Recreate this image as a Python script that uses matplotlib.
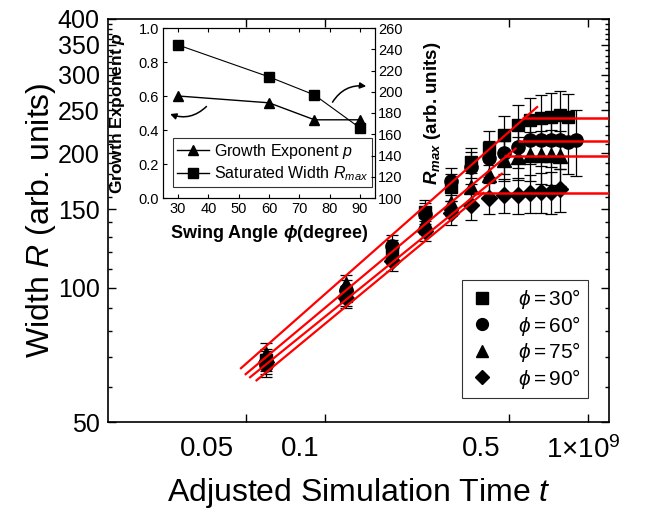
import numpy as np
import matplotlib
matplotlib.use('Agg')
import matplotlib.pyplot as plt
from matplotlib import transforms
from matplotlib.lines import Line2D
from matplotlib.ticker import FixedLocator, NullLocator, NullFormatter

plt.rcParams['font.family'] = ['Liberation Sans', 'DejaVu Sans']
plt.rcParams['mathtext.fontset'] = 'custom'
plt.rcParams['mathtext.rm'] = 'Liberation Sans'
plt.rcParams['mathtext.it'] = 'Liberation Sans:italic'
plt.rcParams['mathtext.bf'] = 'Liberation Sans:bold'
plt.rcParams['mathtext.bfit'] = 'Liberation Sans:italic:bold'
plt.rcParams['mathtext.fallback'] = 'stixsans'

# ---------------- main data ----------------
time_30 = [0.06, 0.12, 0.18, 0.24, 0.30, 0.36, 0.42, 0.48, 0.54, 0.60, 0.66, 0.72, 0.78, 0.84]
width_30 = [69, 96, 121, 148, 168, 191, 206, 220, 232, 238, 240, 241, 244, 241]
err_30 = [4, 5, 7, 9, 12, 15, 18, 22, 25, 28, 30, 32, 32, 30]

time_60 = [0.06, 0.12, 0.18, 0.24, 0.30, 0.36, 0.42, 0.48, 0.54, 0.60, 0.66, 0.72, 0.78, 0.84, 0.90]
width_60 = [67, 99, 124, 146, 173, 186, 195, 200, 207, 214, 214, 214, 214, 212, 214]
err_60 = [4, 5, 7, 9, 12, 15, 18, 20, 22, 25, 27, 28, 30, 32, 36]

time_75 = [0.06, 0.12, 0.18, 0.24, 0.30, 0.36, 0.42, 0.48, 0.54, 0.60, 0.66, 0.72, 0.78]
width_75 = [71, 102, 119, 140, 155, 168, 179, 193, 196, 198, 198, 198, 197]
err_75 = [4, 5, 6, 8, 10, 13, 16, 20, 22, 25, 27, 28, 28]

time_90 = [0.06, 0.12, 0.18, 0.24, 0.30, 0.36, 0.42, 0.48, 0.54, 0.60, 0.66, 0.72, 0.78]
width_90 = [68, 95, 115, 134, 147, 153, 159, 161, 161, 163, 164, 164, 166]
err_90 = [4, 5, 6, 7, 9, 11, 13, 14, 15, 16, 17, 18, 18]

# power-law fit segments (start/end time and width) and saturation levels
fit_t_start = [0.048, 0.050, 0.052, 0.055]
fit_R_start = [66, 64, 63, 62]
fit_t_end = [0.64, 0.53, 0.47, 0.40]
fit_R_end = [254, 205, 180, 163]
sat_t_start = [0.56, 0.54, 0.48, 0.37]
sat_level = [240, 213, 197, 163]

series_labels = [r'$\phi = 30°$', r'$\phi = 60°$', r'$\phi = 75°$', r'$\phi = 90°$']
series_markers = ['s', 'o', '^', 'D']
series_ms = [9, 9.5, 10, 8.5]
legend_ms = [8, 8.5, 9, 7.5]

x_ticks = [0.05, 0.1, 0.5, 1.0]
x_ticklabels = ['0.05', '0.1', '0.5', r'1×10$^{9}$']
y_ticks = [50, 100, 150, 200, 250, 300, 350, 400]
y_minor = [60, 70, 80, 90, 110, 120, 130, 140, 160, 170, 180, 190, 210, 220, 230, 240,
           260, 270, 280, 290, 310, 320, 330, 340, 360, 370, 380, 390]

# ---------------- inset data ----------------
swing_angle = [30, 60, 75, 90]
growth_p = [0.60, 0.56, 0.46, 0.46]
rmax = [244, 214, 197, 166]

fig = plt.figure(figsize=(6.52, 5.14), dpi=100)
ax = fig.add_axes([108/652, 92/514, 501/652, 403/514])
ax.set_xscale('log')
ax.set_yscale('log')

times = [time_30, time_60, time_75, time_90]
widths = [width_30, width_60, width_75, width_90]
errs = [err_30, err_60, err_75, err_90]
for t, R, e, m, ms in zip(times, widths, errs, series_markers, series_ms):
    ax.errorbar(t, R, yerr=e, fmt=m, color='black', ms=ms, ecolor='black',
                elinewidth=0.9, capsize=4, capthick=0.9, zorder=2)

ax.set_xlim(0.015, 1.2)
ax.set_ylim(50, 400)
xr = ax.get_xlim()[1]
for i in range(4):
    ax.plot([fit_t_start[i], fit_t_end[i]], [fit_R_start[i], fit_R_end[i]],
            color='#ff0000', lw=1.6, zorder=3)
    ax.hlines(sat_level[i], sat_t_start[i], xr, color='#ff0000', lw=1.8, zorder=3)

ax.xaxis.set_major_locator(FixedLocator(x_ticks))
ax.xaxis.set_minor_locator(NullLocator())
ax.set_xticklabels(x_ticklabels)
ax.yaxis.set_major_locator(FixedLocator(y_ticks))
ax.yaxis.set_minor_locator(FixedLocator(y_minor))
ax.yaxis.set_minor_formatter(NullFormatter())
ax.set_yticklabels([str(v) for v in y_ticks])
ax.tick_params(which='both', direction='in', top=True, right=True, width=1)
ax.tick_params(which='major', length=6)
ax.tick_params(axis='y', which='major', labelsize=18, pad=6)
ax.tick_params(axis='x', which='major', labelsize=20, pad=10)
ax.tick_params(which='minor', length=3)
for sp in ax.spines.values():
    sp.set_linewidth(1.2)

# shift x tick labels like the reference
shifts = [(-12, 'right'), (-5, 'right'), (-8, 'right'), (-42, 'left')]
for lbl, (dx, ha) in zip(ax.get_xticklabels(), shifts):
    lbl.set_ha(ha)
    lbl.set_transform(lbl.get_transform() + transforms.ScaledTranslation(dx/100, 0, fig.dpi_scale_trans))

ax.set_xlabel(r'Adjusted Simulation Time $t$', fontsize=23)
ax.set_ylabel(r'Width $R$ (arb. units)', fontsize=23)
ax.xaxis.set_label_coords(0.5, -0.135)
ax.yaxis.set_label_coords(-0.1, 0.5)

handles = [Line2D([], [], ls='none', marker=m, color='black', ms=ms)
           for m, ms in zip(series_markers, legend_ms)]
leg = ax.legend(handles, series_labels, loc='lower right', bbox_to_anchor=(0.958, 0.06),
                borderaxespad=0, fontsize=15, frameon=True, fancybox=False,
                edgecolor='black', labelspacing=0.12, handletextpad=1.1,
                handlelength=1.2, borderpad=0.35)
leg.get_frame().set_linewidth(0.8)

# ---------------- inset ----------------
ins = fig.add_axes([163/652, 1 - 198/514, 212/652, 170/514])
ins.plot(swing_angle, growth_p, marker='^', color='black', lw=1.0, ms=7)
ins.set_xlim(25, 95)
ins.set_ylim(0, 1.0)
ins.set_xticks([30, 40, 50, 60, 70, 80, 90])
ins.set_yticks([0.0, 0.2, 0.4, 0.6, 0.8, 1.0])
ins.tick_params(direction='in', labelsize=10.5, length=3, pad=3, top=True)
ins2 = ins.twinx()
ins2.plot(swing_angle, rmax, marker='s', color='black', lw=0.8, ms=6.5)
ins2.set_ylim(100, 260)
ins2.set_yticks([100, 120, 140, 160, 180, 200, 220, 240, 260])
ins2.tick_params(direction='in', labelsize=10.5, length=3, pad=2)

ins.set_xlabel(r'Swing Angle $\mathbfit{\phi}$(degree)', fontsize=13, fontweight='bold')
ins.set_ylabel(r'Growth Exponent $\mathbfit{p}$', fontsize=12.5, fontweight='bold')
ins2.set_ylabel(r'$\mathbfit{R}_{\mathbfit{max}}$ (arb. units)', fontsize=13.5, fontweight='bold')
ins.xaxis.set_label_coords(0.5, -0.15)
ins.yaxis.set_label_coords(-0.17, 0.5)
ins2.yaxis.set_label_coords(1.22, 0.5)

ins.annotate('', xy=(26.5, 0.50), xytext=(40, 0.55),
             arrowprops=dict(arrowstyle='-|>', connectionstyle='arc3,rad=-0.35',
                             color='black', lw=1.1, mutation_scale=9))
ins.annotate('', xy=(93, 0.655), xytext=(80.5, 0.55),
             arrowprops=dict(arrowstyle='-|>', connectionstyle='arc3,rad=-0.35',
                             color='black', lw=1.1, mutation_scale=9))

ih = [Line2D([], [], color='black', marker='^', ms=7, lw=1.0),
      Line2D([], [], color='black', marker='s', ms=6.5, lw=1.0)]
il = ins.legend(ih, [r'Growth Exponent $p$', r'Saturated Width $R_{max}$'],
                loc='lower left', bbox_to_anchor=(0.047, 0.065), borderaxespad=0,
                fontsize=11.5, fancybox=False, edgecolor='black', handlelength=2.0,
                handletextpad=0.3, labelspacing=0.2, borderpad=0.25)
il.get_frame().set_linewidth(0.8)

fig.savefig('out.png', dpi=100)
